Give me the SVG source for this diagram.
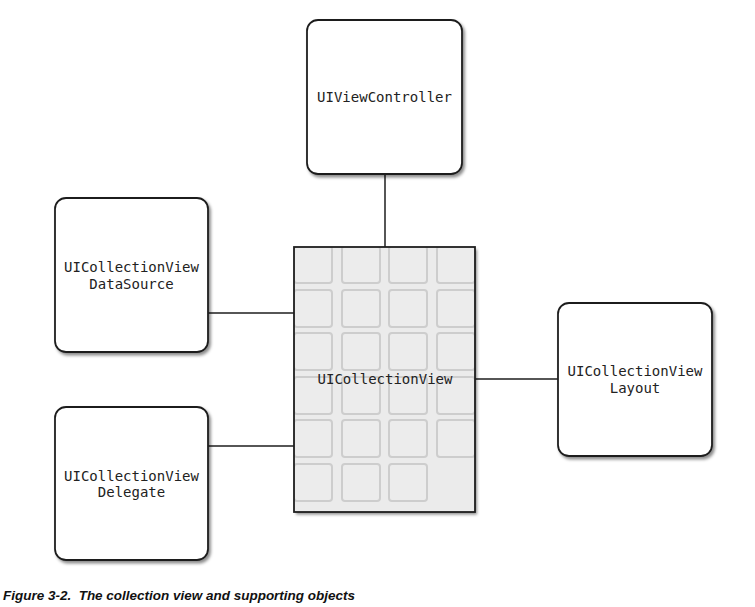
<svg xmlns="http://www.w3.org/2000/svg" width="755" height="607" viewBox="0 0 755 607">
<defs>
<style>
.box{fill:#ffffff;stroke:#1e1e1e;stroke-width:1.8;filter:url(#sh)}
.lbl{font-family:"DejaVu Sans Mono","Liberation Mono",monospace;font-size:14px;fill:#222;text-anchor:middle}
.conn{stroke:#1e1e1e;stroke-width:1.5;fill:none}
.cell{fill:#ececec;stroke:#cdcdcd;stroke-width:2}
</style>
<filter id="sh" x="-10%" y="-10%" width="125%" height="125%">
<feDropShadow dx="2" dy="2.5" stdDeviation="1.5" flood-color="#000" flood-opacity="0.45"/>
</filter>
<clipPath id="cvclip"><rect x="294" y="247" width="181" height="265"/></clipPath>
<g id="cellrow">
<rect class="cell" x="294" y="0" width="38" height="37" rx="3"/>
<rect class="cell" x="342" y="0" width="38" height="37" rx="3"/>
<rect class="cell" x="389" y="0" width="38" height="37" rx="3"/>
<rect class="cell" x="437" y="0" width="38" height="37" rx="3"/>
</g>
</defs>
<rect width="755" height="607" fill="#ffffff"/>
<g id="connectors">
<line class="conn" x1="385" y1="174" x2="385" y2="247"/>
<line class="conn" x1="208" y1="313" x2="294" y2="313"/>
<line class="conn" x1="208" y1="446" x2="294" y2="446"/>
<line class="conn" x1="475" y1="379" x2="558" y2="379"/>
</g>
<g id="vc">
<rect class="box" x="307" y="20" width="155" height="154" rx="11"/>
<text class="lbl" x="384.5" y="102">UIViewController</text>
</g>
<g id="datasource">
<rect class="box" x="55" y="198" width="153" height="154" rx="11"/>
<text class="lbl" x="131.5" y="272">UICollectionView</text>
<text class="lbl" x="131.5" y="289">DataSource</text>
</g>
<g id="delegate">
<rect class="box" x="55" y="407" width="153" height="153" rx="11"/>
<text class="lbl" x="131.5" y="481">UICollectionView</text>
<text class="lbl" x="131.5" y="497">Delegate</text>
</g>
<g id="layout">
<rect class="box" x="558" y="303" width="154" height="153" rx="11"/>
<text class="lbl" x="635" y="376">UICollectionView</text>
<text class="lbl" x="635" y="393">Layout</text>
</g>
<g id="collectionview">
<rect x="294" y="247" width="181" height="265" fill="#ebebeb" filter="url(#sh)"/>
<g clip-path="url(#cvclip)">
<use href="#cellrow" y="246"/>
<use href="#cellrow" y="290"/>
<use href="#cellrow" y="333"/>
<use href="#cellrow" y="377"/>
<use href="#cellrow" y="420"/>
<rect class="cell" x="294" y="464" width="38" height="37" rx="3"/>
<rect class="cell" x="342" y="464" width="38" height="37" rx="3"/>
<rect class="cell" x="389" y="464" width="38" height="37" rx="3"/>
</g>
<rect x="294" y="247" width="181" height="265" fill="none" stroke="#1e1e1e" stroke-width="1.8"/>
<text class="lbl" x="385" y="384">UICollectionView</text>
</g>
<text x="3" y="600" font-family="'Liberation Sans Narrow','Liberation Sans',sans-serif" font-size="13.5" font-weight="bold" font-style="italic" fill="#111" textLength="352" lengthAdjust="spacingAndGlyphs" xml:space="preserve">Figure 3-2.  The collection view and supporting objects</text>
</svg>
